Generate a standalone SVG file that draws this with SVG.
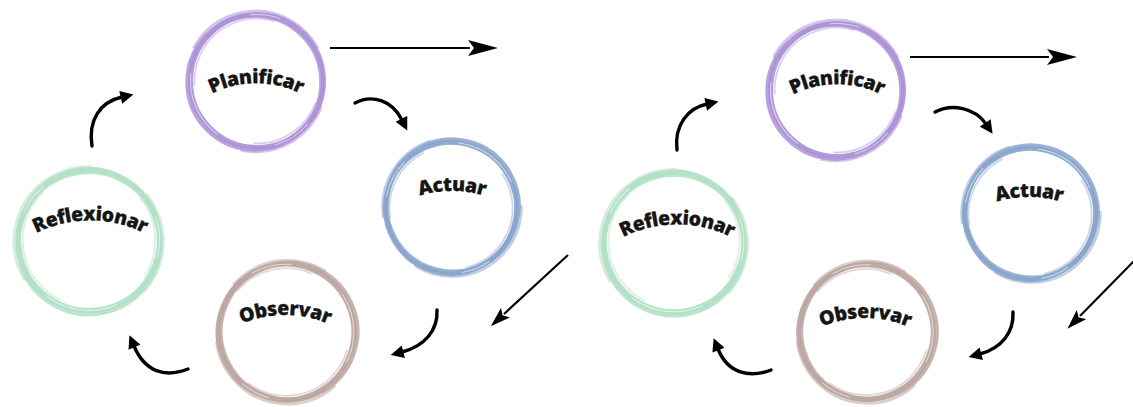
<svg xmlns="http://www.w3.org/2000/svg" xmlns:xlink="http://www.w3.org/1999/xlink" width="1133" height="407" viewBox="0 0 1133 407">
  <style>
    .ring circle { fill: none; stroke: currentColor; }
    .ring .streak { stroke: #ffffff; }
    .purple { color: #ae92d8; }
    .blue { color: #8aa5cc; }
    .brown { color: #bca6a1; }
    .green { color: #b2dfc5; }
    .label { font-family: "Open Sans", Lato, "Liberation Sans", sans-serif; font-weight: 800; font-size: 19.5px; letter-spacing: -0.5px; fill: #151515; stroke: #151515; stroke-width: 0.25; }
    .curve { fill: none; stroke: #000; stroke-width: 3.4; stroke-linecap: round; }
    .straight { fill: none; stroke: #000; stroke-width: 2.2; }
  </style>
  <defs>
    <!-- brush-like ring, nominal radius 70, centred on the origin;
         two slightly offset bands give an uneven stroke width -->
    <symbol id="ring" overflow="visible">
      <g class="ring">
        <circle r="66.5" stroke-width="5" opacity="0.92"/>
        <circle cx="-2.2" cy="1.2" r="67" stroke-width="5" opacity="0.85"/>
        <circle cx="1" cy="-1" r="70.5" stroke-width="2.6" opacity="0.55" stroke-dasharray="150 60 100 130" transform="rotate(-150)"/>
        <circle r="62.5" stroke-width="1.8" opacity="0.45" stroke-dasharray="80 90 120 120" transform="rotate(20)"/>
        <circle class="streak" r="66.5" stroke-width="1" opacity="0.55" stroke-dasharray="40 60 70 90 30 130" transform="rotate(40)"/>
      </g>
    </symbol>
    <marker id="head" viewBox="0 0 10 10" refX="1" refY="5" markerUnits="userSpaceOnUse" markerWidth="14" markerHeight="13" orient="auto">
      <path d="M0,0 L10,5 L0,10 z" fill="#000"/>
    </marker>
    <marker id="headLong" viewBox="0 0 30 16" refX="2" refY="8" markerUnits="userSpaceOnUse" markerWidth="30" markerHeight="16" orient="auto">
      <path d="M0,0 L30,8 L0,16 L6,8 z" fill="#000"/>
    </marker>
    <marker id="headDiag" viewBox="0 0 20 13" refX="2" refY="6.5" markerUnits="userSpaceOnUse" markerWidth="20" markerHeight="13" orient="auto">
      <path d="M0,0 L20,6.5 L0,13 L4,6.5 z" fill="#000"/>
    </marker>

    <!-- arched baselines for the labels -->
    <path id="arcPlan1" d="M196,103.3 A100,100 0 0 1 316,103.3"/>
    <path id="arcAct1" d="M392,208.8 A110,110 0 0 1 512,208.8"/>
    <path id="arcObs1" d="M225,332.8 A110,110 0 0 1 345,332.8"/>
    <path id="arcRef1" d="M20,243 A120,120 0 0 1 160,243"/>

    <path id="arcPlan2" d="M777,104.3 A100,100 0 0 1 897,104.3"/>
    <path id="arcAct2" d="M969,214.8 A110,110 0 0 1 1089,214.8"/>
    <path id="arcObs2" d="M805,335.8 A110,110 0 0 1 925,335.8"/>
    <path id="arcRef2" d="M607,247 A120,120 0 0 1 747,247"/>
  </defs>

  <rect width="1133" height="407" fill="#ffffff"/>

  <!-- first cycle -->
  <g id="planificar-1" class="purple">
    <use href="#ring" transform="translate(257,81)"/>
    <text class="label"><textPath href="#arcPlan1" startOffset="50%" text-anchor="middle">Planificar</textPath></text>
  </g>
  <g id="actuar-1" class="blue">
    <use href="#ring" transform="translate(451,208) scale(0.985) rotate(150)"/>
    <text class="label"><textPath href="#arcAct1" startOffset="50%" text-anchor="middle">Actuar</textPath></text>
  </g>
  <g id="observar-1" class="brown">
    <use href="#ring" transform="translate(286,332) scale(1.02) rotate(200)"/>
    <text class="label"><textPath href="#arcObs1" startOffset="50%" text-anchor="middle">Observar</textPath></text>
  </g>
  <g id="reflexionar-1" class="green">
    <use href="#ring" transform="translate(89,240) scale(1.06) rotate(-60)"/>
    <text class="label"><textPath href="#arcRef1" startOffset="50%" text-anchor="middle">Reflexionar</textPath></text>
  </g>

  <!-- second cycle -->
  <g id="planificar-2" class="purple">
    <use href="#ring" transform="translate(837,90)"/>
    <text class="label"><textPath href="#arcPlan2" startOffset="50%" text-anchor="middle">Planificar</textPath></text>
  </g>
  <g id="actuar-2" class="blue">
    <use href="#ring" transform="translate(1030,214) scale(0.985) rotate(150)"/>
    <text class="label"><textPath href="#arcAct2" startOffset="50%" text-anchor="middle">Actuar</textPath></text>
  </g>
  <g id="observar-2" class="brown">
    <use href="#ring" transform="translate(866,332) scale(1.01) rotate(200)"/>
    <text class="label"><textPath href="#arcObs2" startOffset="50%" text-anchor="middle">Observar</textPath></text>
  </g>
  <g id="reflexionar-2" class="green">
    <use href="#ring" transform="translate(674,242) scale(1.05) rotate(-60)"/>
    <text class="label"><textPath href="#arcRef2" startOffset="50%" text-anchor="middle">Reflexionar</textPath></text>
  </g>

  <!-- connectors -->
  <g id="connectors">
    <path class="curve" d="M92,146 C88,120 100,102 122,97" marker-end="url(#head)"/>
    <path class="curve" d="M355,103 C372,94 392,100 402,120" marker-end="url(#head)"/>
    <path class="curve" d="M437,310 C438,330 425,346 402,352" marker-end="url(#head)"/>
    <path class="curve" d="M188,369 C165,378 145,372 134,346" marker-end="url(#head)"/>
    <path class="straight" d="M330,48 H470" marker-end="url(#headLong)"/>
    <path class="straight" d="M568,255 L504,314" marker-end="url(#headDiag)"/>

    <path class="curve" d="M677,150 C674,125 688,108 707,104" marker-end="url(#head)"/>
    <path class="curve" d="M935,112 C952,103 975,108 986,124" marker-end="url(#head)"/>
    <path class="curve" d="M1013,312 C1014,332 1002,348 980,354" marker-end="url(#head)"/>
    <path class="curve" d="M771,370 C750,378 728,374 718,349" marker-end="url(#head)"/>
    <path class="straight" d="M910,57 H1049" marker-end="url(#headLong)"/>
    <path class="straight" d="M1135,260 L1080,316" marker-end="url(#headDiag)"/>
  </g>
</svg>
